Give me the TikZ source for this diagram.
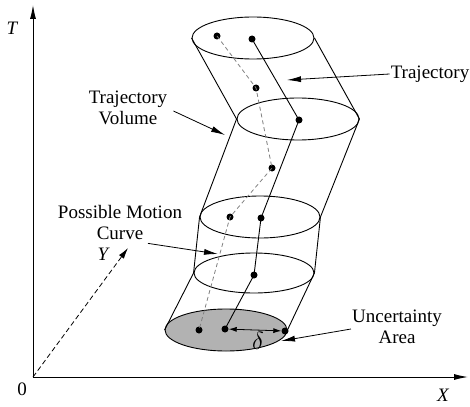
\documentclass[tikz,border=0pt]{standalone}
\usepackage{fontspec}
\setmainfont{Liberation Serif}
\usepackage{tikz}
\usetikzlibrary{arrows.meta,shapes.geometric}
\tikzset{
  axisline/.style={-{Latex[length=14pt,width=6pt]}, line width=1pt},
  rimellipse/.style={draw, ellipse, inner sep=0pt, line width=0.9pt, minimum width=122pt, minimum height=42pt},
  rimline/.style={line width=0.9pt},
  trackdot/.style={circle, fill, inner sep=0pt, minimum size=7pt},
  solidtrack/.style={line width=0.9pt},
  dashedtrack/.style={gray, line width=0.8pt, dash pattern=on 4pt off 3pt},
  labeltext/.style={align=center, inner sep=1pt, font=\fontsize{19}{21}\selectfont},
  axislabel/.style={inner sep=1pt, font=\fontsize{19}{21}\selectfont\itshape},
  pointer/.style={-{Latex[length=14pt,width=6pt]}, line width=0.8pt}
}
\begin{document}
\begin{tikzpicture}[x=1pt,y=-1pt]
\useasboundingbox (0,0) rectangle (470,406);
\coordinate (origin) at (33,377);
\coordinate (tend) at (33,5);
\coordinate (xend) at (468,377);
\coordinate (yend) at (128,248);
\draw[axisline] (origin) -- (tend);
\draw[axisline] (origin) -- (xend);
\draw[-{Latex[length=11pt,width=6pt]}, line width=0.8pt, dash pattern=on 5pt off 3pt] (origin) -- (yend);
\node[axislabel] (tlabel) at (12,28) {T};
\node[axislabel] (xlabel) at (443,395) {X};
\node[axislabel] (ylabel) at (103,254) {Y};
\node[labeltext] (zero) at (22,389) {0};
\node[rimellipse, fill=black!30] (rim5) at (226,330) {};
\node[rimellipse] (rim1) at (253,38) {};
\node[rimellipse] (rim2) at (298,119) {};
\node[rimellipse, minimum width=120pt] (rim3) at (260,217) {};
\node[rimellipse, minimum width=120pt, minimum height=40pt] (rim4) at (254,273) {};
\foreach \a/\b in {1/2,2/3,3/4,4/5} {
  \draw[rimline] (rim\a.west) -- (rim\b.west);
  \draw[rimline] (rim\a.east) -- (rim\b.east);
}
\node[trackdot] (d1) at (217,36) {};
\node[trackdot] (d2) at (256,88) {};
\node[trackdot] (d3) at (272,168) {};
\node[trackdot] (d4) at (230,217) {};
\node[trackdot] (d5) at (199,330) {};
\node[trackdot] (s1) at (252,39) {};
\node[trackdot] (s2) at (299,120) {};
\node[trackdot] (s3) at (261,218) {};
\node[trackdot] (s4) at (254,275) {};
\node[trackdot] (s5) at (225,329) {};
\node[trackdot] (edge) at (285,331) {};
\draw[dashedtrack] (d1.center) -- (d2.center) -- (d3.center) -- (d4.center) -- (d5.center);
\draw[solidtrack] (s1.center) -- (s2.center) -- (s3.center) -- (s4.center) -- (s5.center);
\draw[{Latex[length=8pt,width=5pt]}-{Latex[length=8pt,width=5pt]}, line width=0.8pt] (s5) -- (edge);
\node[inner sep=0pt, font=\fontsize{24}{24}\selectfont] (delta) at (258,341) {$\delta$};
\node[labeltext] (traj) at (430,74) {Trajectory};
\node[labeltext] (vol) at (128,108) {Trajectory\\Volume};
\node[labeltext] (motion) at (120,222) {Possible Motion\\Curve};
\node[labeltext] (uncert) at (397,327) {Uncertainty\\Area};
\coordinate (trajtip) at (287,80);
\coordinate (voltip) at (225,135);
\coordinate (motiontip) at (218,254);
\coordinate (uncerttip) at (281,341);
\draw[pointer] (traj.west) -- (trajtip);
\draw[pointer] ([xshift=5pt,yshift=-3pt]vol.east) -- (voltip);
\draw[pointer] ([xshift=28pt,yshift=-3pt]motion.south) -- (motiontip);
\draw[pointer] ([yshift=-2pt]uncert.west) -- (uncerttip);
\end{tikzpicture}
\end{document}
